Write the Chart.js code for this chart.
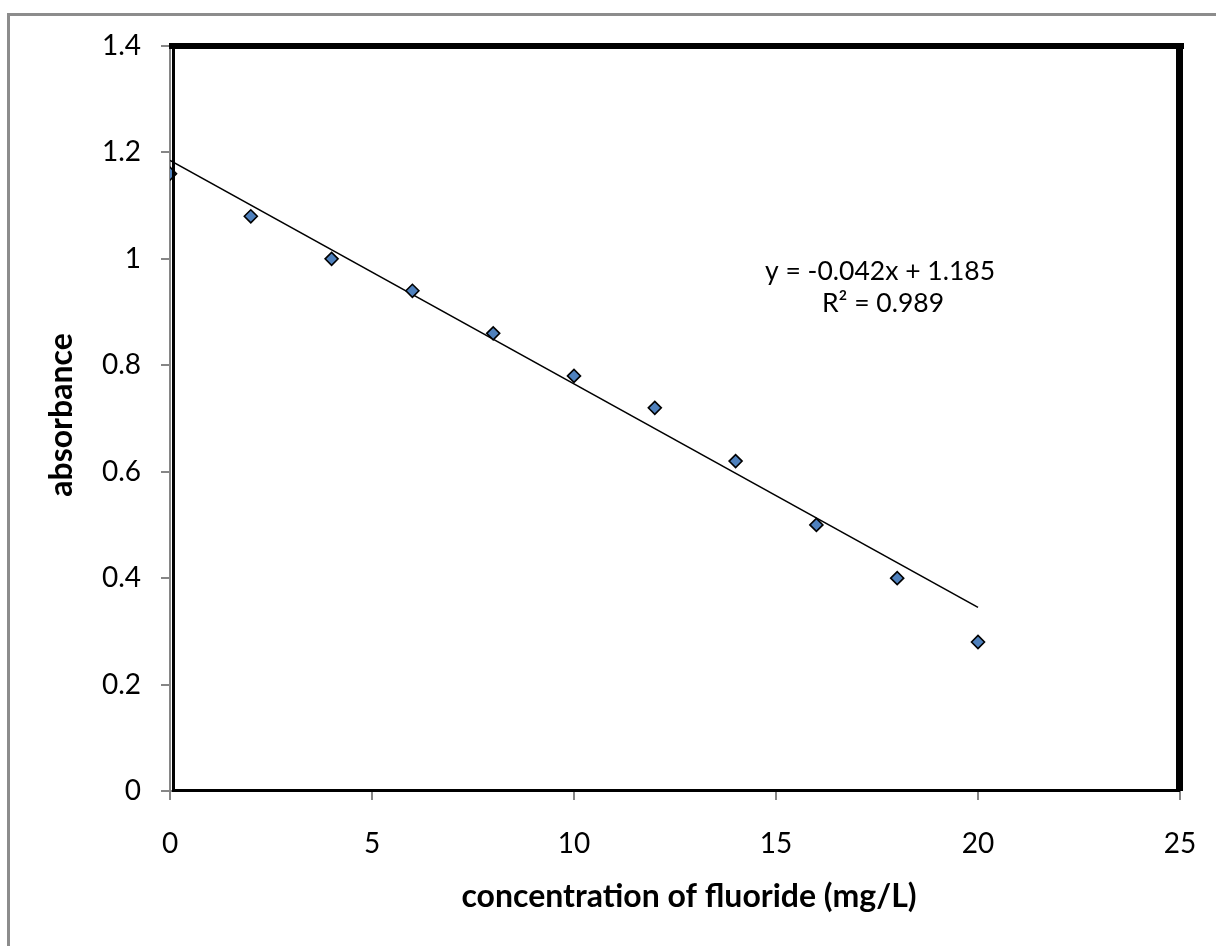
<!DOCTYPE html>
<html>
<head>
<meta charset="utf-8">
<title>Fluoride calibration</title>
<script src="https://cdn.jsdelivr.net/npm/chart.js@4.4.1/dist/chart.umd.min.js"></script>
<style>
  html, body { margin: 0; padding: 0; background: #fff; overflow: hidden; }
  #wrap { width: 1216px; height: 946px; position: relative; }
  canvas { display: block; }
</style>
</head>
<body>
<div id="wrap"><canvas id="chart" width="1216" height="946"></canvas></div>
<script>
// calibration data
const concentration = [0, 2, 4, 6, 8, 10, 12, 14, 16, 18, 20];
const absorbance = [1.16, 1.08, 1.0, 0.94, 0.86, 0.78, 0.72, 0.62, 0.50, 0.40, 0.28];

// linear trendline as reported
const trendSlope = -0.042;
const trendIntercept = 1.185;
const rSquared = 0.989;
const trendRange = [0, 20];

const xTicks = [0, 5, 10, 15, 20, 25];
const yTicks = [0, 0.2, 0.4, 0.6, 0.8, 1.0, 1.2, 1.4];

const xTitle = 'concentration of fluoride (mg/L)';
const yTitle = 'absorbance';

const FONT = 'Lato, "Open Sans", sans-serif';
const AXIS_GREY = '#868686';

const points = concentration.map((x, i) => ({ x, y: absorbance[i] }));
const trend = trendRange.map(x => ({ x, y: trendSlope * x + trendIntercept }));

const fmt = v => String(parseFloat(Number(v).toFixed(3)));
const sign = trendIntercept >= 0 ? '+' : '-';
const eqLine = `y = ${fmt(trendSlope)}x ${sign} ${fmt(Math.abs(trendIntercept))}`;
const r2Line = `R\u00B2 = ${fmt(rSquared)}`;

// keep the plot box fixed regardless of label overhang
const noOverhang = s => { s.paddingLeft = s.paddingRight = s.paddingTop = s.paddingBottom = 0; };

// frame, plot box and text labels
const decor = {
  id: 'decor',
  beforeDraw(chart) {
    const ctx = chart.ctx;
    ctx.save();
    ctx.fillStyle = '#fff';
    ctx.fillRect(0, 0, chart.width, chart.height);
    ctx.fillStyle = '#8c8c8c';
    ctx.fillRect(7, 13, 3, chart.height - 13);
    ctx.fillRect(7, 13, chart.width - 7, 3);
    ctx.restore();
  },
  afterDraw(chart) {
    const { ctx, chartArea: a } = chart;
    ctx.save();
    ctx.fillStyle = '#000';
    ctx.fillRect(a.left - 1, a.top - 3, a.right - a.left + 5, 6);   // top
    ctx.fillRect(a.right - 4, a.top - 3, 7, a.bottom - a.top + 3);  // right
    ctx.fillRect(a.left + 2, a.top, 3, a.bottom - a.top);           // left
    ctx.fillRect(a.left + 2, a.bottom - 2, a.right - a.left - 2, 3); // bottom

    ctx.fillStyle = '#000';
    ctx.textAlign = 'center';
    ctx.textBaseline = 'alphabetic';
    ctx.font = `bold 32px ${FONT}`;
    ctx.fillText(xTitle, 689, 907);
    ctx.save();
    ctx.translate(72, 415);
    ctx.rotate(-Math.PI / 2);
    ctx.fillText(yTitle, 0, 0);
    ctx.restore();

    ctx.font = `26.5px ${FONT}`;
    ctx.fillText(eqLine, 880, 280);
    ctx.fillText(r2Line, 883, 312);
    ctx.restore();
  }
};

new Chart(document.getElementById('chart'), {
  type: 'scatter',
  data: {
    datasets: [
      {
        data: points,
        pointStyle: 'rectRot',
        pointRadius: 6.5,
        pointHoverRadius: 6.5,
        backgroundColor: '#4f81bd',
        borderColor: '#000',
        pointBorderWidth: 1.6,
        order: 1
      },
      {
        data: trend,
        showLine: true,
        pointRadius: 0,
        borderColor: '#000',
        borderWidth: 1.6,
        order: 2
      }
    ]
  },
  options: {
    responsive: false,
    animation: false,
    events: [],
    layout: { padding: { left: 0, top: 46, right: 36, bottom: 0 } },
    plugins: { legend: { display: false }, tooltip: { enabled: false } },
    scales: {
      x: {
        type: 'linear',
        min: xTicks[0],
        max: xTicks[xTicks.length - 1],
        afterBuildTicks: s => { s.ticks = xTicks.map(value => ({ value })); },
        afterFit: s => { s.height = 155; noOverhang(s); },
        grid: { drawOnChartArea: false, tickLength: 9, color: AXIS_GREY, lineWidth: 2 },
        border: { color: AXIS_GREY, width: 2 },
        ticks: { color: '#000', padding: 27, font: { family: FONT, size: 28 }, callback: v => fmt(v) }
      },
      y: {
        type: 'linear',
        min: yTicks[0],
        max: yTicks[yTicks.length - 1],
        afterBuildTicks: s => { s.ticks = yTicks.map(value => ({ value })); },
        afterFit: s => { s.width = 170; noOverhang(s); },
        grid: { drawOnChartArea: false, tickLength: 9, color: AXIS_GREY, lineWidth: 2 },
        border: { color: AXIS_GREY, width: 2 },
        ticks: { color: '#000', padding: 20, font: { family: FONT, size: 28 }, callback: v => fmt(v) }
      }
    }
  },
  plugins: [decor]
});
</script>
</body>
</html>
